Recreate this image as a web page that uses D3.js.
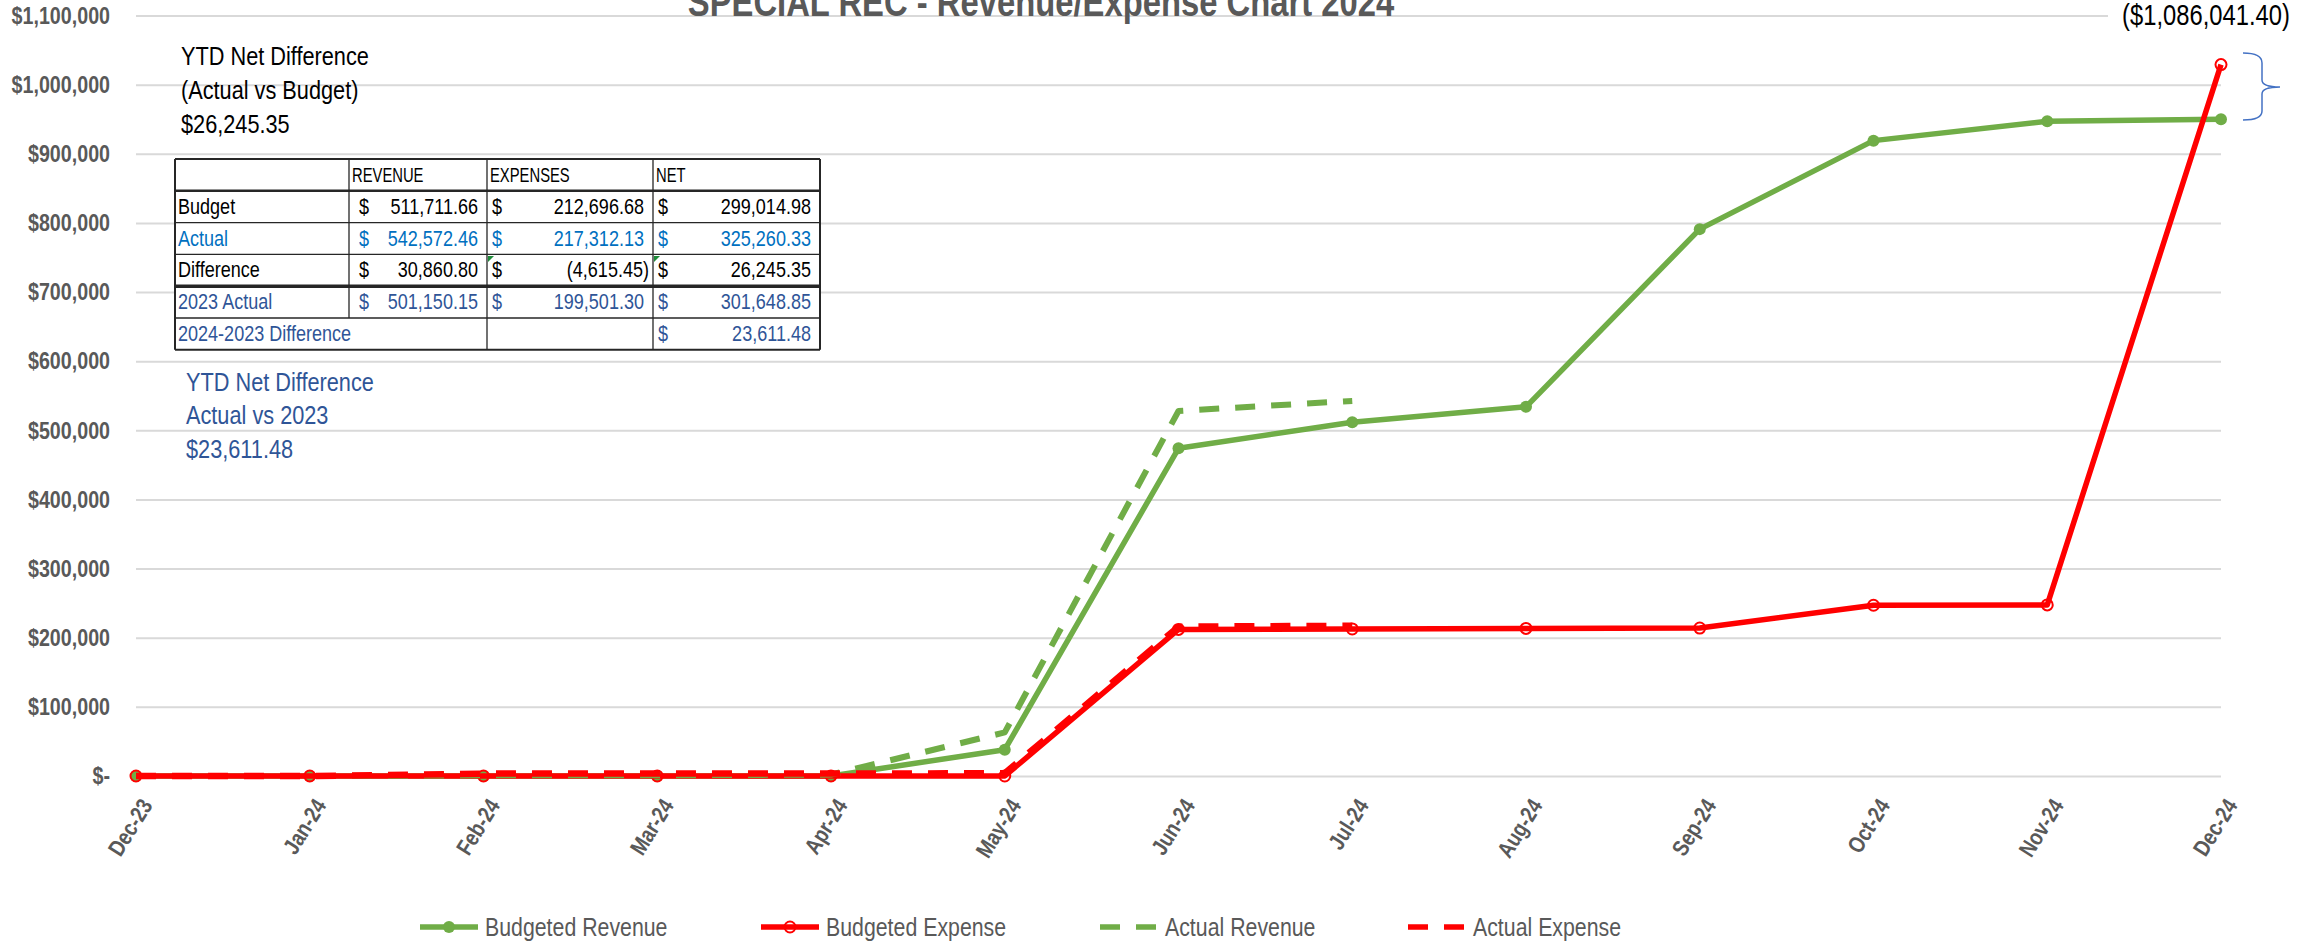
<!DOCTYPE html>
<html><head><meta charset="utf-8">
<script src="https://cdn.jsdelivr.net/npm/d3@7"></script>
<style>
body{margin:0;background:#fff;overflow:hidden;}
svg{display:block;font-family:"Liberation Sans Narrow","Arial Narrow","Liberation Sans",Arial,sans-serif;}
</style>
</head><body>
<svg id="chart" width="2307" height="947"></svg>
<script>
// ---------- DATA ----------
const months = ["Dec-23","Jan-24","Feb-24","Mar-24","Apr-24","May-24","Jun-24","Jul-24","Aug-24","Sep-24","Oct-24","Nov-24","Dec-24"];
const budgetedRevenue = [0,0,0,0,0,38000,474000,511712,534000,791000,919000,947000,950000];
const budgetedExpense = [0,0,0,0,0,0,212000,212697,213500,214000,247000,247500,1029000];
const actualRevenue   = [0,0,1000,1000,2000,63000,528000,542572,null,null,null,null,null];
const actualExpense   = [0,0,3500,3500,3500,4000,216000,217312,null,null,null,null,null];
const seriesNames = ["Budgeted Revenue","Budgeted Expense","Actual Revenue","Actual Expense"];
const yTickValues = [0,100000,200000,300000,400000,500000,600000,700000,800000,900000,1000000,1100000];

const chartTitle = "SPECIAL REC - Revenue/Expense Chart 2024";
const boxBudgetLines = ["YTD Net Difference","(Actual vs Budget)","$26,245.35"];
const box2023Lines = ["YTD Net Difference","Actual vs 2023","$23,611.48"];
const decAnnotation = "($1,086,041.40)";

const tableHeader = ["","REVENUE","EXPENSES","NET"];
const tableLabels = ["Budget","Actual","Difference","2023 Actual","2024-2023 Difference"];
const tableRevenue = ["511,711.66","542,572.46","30,860.80","501,150.15",null];
const tableExpenses = ["212,696.68","217,312.13","(4,615.45)","199,501.30",null];
const tableNet = ["299,014.98","325,260.33","26,245.35","301,648.85","23,611.48"];

// ---------- STYLES / LAYOUT ----------
const GREEN = "#70AD47", RED = "#FF0000", GRAY = "#595959", GRID = "#D9D9D9";
const rowColors = ["#000000","#0070C0","#000000","#2F5597","#2F5597"];
const X0 = 136, X1 = 2221, Y0 = 776, YTOP = 15.5;
const NARROW = 0.82; // horizontal condensing to mimic a narrow face

const svg = d3.select("#chart");
const x = d3.scalePoint().domain(months).range([X0, X1]);
const y = d3.scaleLinear().domain([0, 1100000]).range([Y0, YTOP]);

// ---------- Y AXIS + GRID ----------
const yAxis = d3.axisLeft(y)
  .tickValues(yTickValues)
  .tickSize(-(X1 - X0))
  .tickPadding(26)
  .tickFormat(d => d === 0 ? "$-" : "$" + d3.format(",")(d));
const gy = svg.append("g").attr("transform", `translate(${X0},0)`).call(yAxis);
gy.select(".domain").remove();
gy.attr("font-family", null);
gy.selectAll(".tick line").attr("stroke", GRID).attr("stroke-width", 2);
gy.selectAll(".tick text").attr("fill", GRAY).attr("font-size", 24).attr("font-weight", 700);

// ---------- X AXIS ----------
const xAxis = d3.axisBottom(x).tickSize(0);
const gx = svg.append("g").attr("transform", `translate(0,${Y0})`).call(xAxis);
gx.select(".domain").remove();
gx.attr("font-family", null);
gx.selectAll(".tick text")
  .attr("fill", GRAY).attr("font-size", 23).attr("font-weight", 700)
  .attr("text-anchor", "end")
  .attr("x", 0).attr("y", 0).attr("dy", "0.35em")
  .attr("transform", "translate(10,25) rotate(-58)");

// ---------- SERIES ----------
const mk = arr => months.map((m, i) => ({m, v: arr[i]}));
const line = d3.line().defined(d => d.v != null).x(d => x(d.m)).y(d => y(d.v));
const plot = svg.append("g");

plot.append("path").datum(mk(budgetedRevenue)).attr("d", line)
  .attr("fill", "none").attr("stroke", GREEN).attr("stroke-width", 5.5).attr("stroke-linejoin", "round");
plot.append("g").selectAll("circle").data(mk(budgetedRevenue)).join("circle")
  .attr("cx", d => x(d.m)).attr("cy", d => y(d.v)).attr("r", 6).attr("fill", GREEN);

plot.append("path").datum(mk(budgetedExpense)).attr("d", line)
  .attr("fill", "none").attr("stroke", RED).attr("stroke-width", 5.5).attr("stroke-linejoin", "round");
plot.append("g").selectAll("circle").data(mk(budgetedExpense)).join("circle")
  .attr("cx", d => x(d.m)).attr("cy", d => y(d.v)).attr("r", 5.5)
  .attr("fill", "none").attr("stroke", RED).attr("stroke-width", 2);

plot.append("path").datum(mk(actualRevenue)).attr("d", line)
  .attr("fill", "none").attr("stroke", GREEN).attr("stroke-width", 6)
  .attr("stroke-dasharray", "20 16").attr("stroke-linejoin", "round");

plot.append("path").datum(mk(actualExpense)).attr("d", line)
  .attr("fill", "none").attr("stroke", RED).attr("stroke-width", 6.5)
  .attr("stroke-dasharray", "20 16").attr("stroke-linejoin", "round");

// ---------- TITLE ----------
svg.append("text").attr("x", 1041).attr("y", 16).attr("text-anchor", "middle")
  .attr("font-size", 40).attr("font-weight", 700).attr("fill", GRAY).text(chartTitle);

// ---------- TEXT BOXES ----------
svg.append("g").selectAll("text").data(boxBudgetLines).join("text")
  .attr("x", 181).attr("y", (d, i) => 65 + i * 34)
  .attr("font-size", 26.5).attr("fill", "#000").text(d => d);

svg.append("g").selectAll("text").data(box2023Lines).join("text")
  .attr("x", 186).attr("y", (d, i) => 391 + i * 33.5)
  .attr("font-size", 26.5).attr("fill", "#2F5597").text(d => d);

// ---------- TABLE ----------
const colX = [175, 349, 487, 653, 820];
const tTop = 159, rowH = 31.8;
const tbl = svg.append("g");
const nRows = 1 + tableLabels.length;
tbl.append("rect").attr("x", colX[0]).attr("y", tTop).attr("width", colX[4] - colX[0])
  .attr("height", nRows * rowH).attr("fill", "#fff");
const tfs = 22;
tableHeader.forEach((h, c) => {
  if (!h) return;
  tbl.append("text").attr("x", colX[c] + 3).attr("y", tTop + 23).attr("font-size", 20)
    .attr("fill", "#000").attr("data-narrow", 0.74).text(h);
});
const cols = [tableRevenue, tableExpenses, tableNet];
const dollarPad = [10, 5, 5];
tableLabels.forEach((lab, r) => {
  const ty = tTop + (r + 1) * rowH + 23;
  tbl.append("text").attr("x", colX[0] + 3).attr("y", ty).attr("font-size", tfs).attr("fill", rowColors[r]).text(lab);
  cols.forEach((arr, c) => {
    const v = arr[r];
    if (v == null) return;
    tbl.append("text").attr("x", colX[c + 1] + dollarPad[c]).attr("y", ty).attr("font-size", tfs).attr("fill", rowColors[r]).text("$");
    const neg = v.startsWith("(");
    tbl.append("text").attr("x", colX[c + 2] - (neg ? 4 : 9)).attr("y", ty).attr("text-anchor", "end")
      .attr("font-size", tfs).attr("fill", rowColors[r]).text(v);
  });
});
const LC = "#262626";
const hl = (yy, w) => tbl.append("line").attr("x1", colX[0]).attr("x2", colX[4]).attr("y1", yy).attr("y2", yy).attr("stroke", LC).attr("stroke-width", w);
const vl = (xx, y1, y2, w) => tbl.append("line").attr("x1", xx).attr("x2", xx).attr("y1", y1).attr("y2", y2).attr("stroke", LC).attr("stroke-width", w);
for (let r = 0; r <= nRows; r++) {
  let w = 1.3;
  if (r === 0 || r === nRows) w = 2;
  if (r === 1) w = 2.5;
  if (r === 4) w = 3.5;
  hl(tTop + r * rowH, w);
}
vl(colX[0], tTop, tTop + nRows * rowH, 2);
vl(colX[4], tTop, tTop + nRows * rowH, 2);
vl(colX[1], tTop, tTop + (nRows - 1) * rowH, 1.3);
vl(colX[2], tTop, tTop + nRows * rowH, 1.3);
vl(colX[3], tTop, tTop + nRows * rowH, 1.3);
[2, 3].forEach(c => {
  const tx = colX[c] + 1, ty = tTop + 3 * rowH + 1.5;
  tbl.append("path").attr("d", `M${tx},${ty}L${tx + 6},${ty}L${tx},${ty + 6}Z`).attr("fill", "#1E8C3A");
});

// ---------- DEC ANNOTATION + BRACE ----------
svg.append("rect").attr("x", 2108).attr("y", 0).attr("width", 199).attr("height", 32).attr("fill", "#fff");
svg.append("text").attr("x", 2206).attr("y", 25).attr("text-anchor", "middle")
  .attr("font-size", 29).attr("fill", "#000").text(decAnnotation);
svg.append("path")
  .attr("d", "M2243,53 Q2262,53 2262,63 L2262,80 Q2262,87 2280,87 Q2262,87 2262,94 L2262,111 Q2262,120 2243,120")
  .attr("fill", "none").attr("stroke", "#4472C4").attr("stroke-width", 1.5);

// ---------- LEGEND ----------
const legendY = 927;
const legendItems = [
  {name: seriesNames[0], x: 420, color: GREEN, dash: null, marker: "filled"},
  {name: seriesNames[1], x: 761, color: RED, dash: null, marker: "hollow"},
  {name: seriesNames[2], x: 1100, color: GREEN, dash: "20 16", marker: null},
  {name: seriesNames[3], x: 1408, color: RED, dash: "20 16", marker: null}
];
const lg = svg.append("g").selectAll("g").data(legendItems).join("g")
  .attr("transform", d => `translate(${d.x},${legendY})`);
lg.append("line").attr("x1", 0).attr("x2", 58).attr("y1", 0).attr("y2", 0)
  .attr("stroke", d => d.color).attr("stroke-width", 5.5)
  .attr("stroke-dasharray", d => d.dash);
lg.filter(d => d.marker === "filled").append("circle").attr("cx", 29).attr("r", 6).attr("fill", d => d.color);
lg.filter(d => d.marker === "hollow").append("circle").attr("cx", 29).attr("r", 5.5)
  .attr("fill", "none").attr("stroke", d => d.color).attr("stroke-width", 2);
lg.append("text").attr("x", 65).attr("y", 9).attr("font-size", 26).attr("fill", GRAY).text(d => d.name);

// ---------- condense all text horizontally around its anchor (narrow face substitute) ----------
svg.selectAll("text").each(function () {
  const f = +(this.getAttribute("data-narrow") || NARROW);
  const ax = +(this.getAttribute("x") || 0);
  const t = this.getAttribute("transform") || "";
  this.setAttribute("transform", `${t} translate(${ax},0) scale(${f},1) translate(${-ax},0)`.trim());
});
</script>
</body></html>
